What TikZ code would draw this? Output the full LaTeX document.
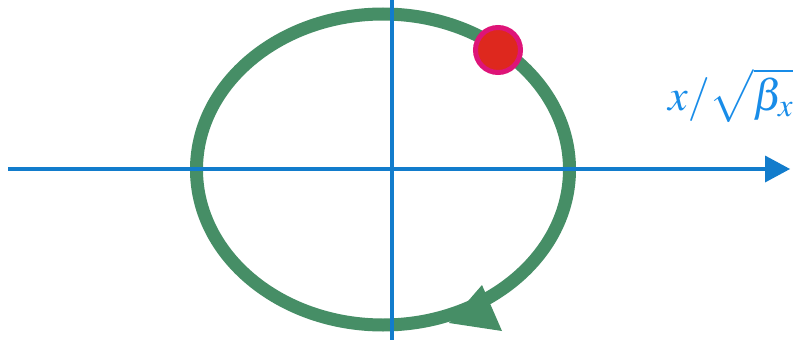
\documentclass[tikz,border=0pt]{standalone}
\usepackage{mathptmx}
\definecolor{orbit}{RGB}{70,142,102}
\definecolor{axisblue}{RGB}{18,124,204}
\definecolor{labelblue}{RGB}{24,140,232}
\definecolor{dotred}{RGB}{222,40,30}
\definecolor{dotrim}{RGB}{222,20,120}
\tikzset{
  orbitline/.style={draw=orbit,line width=13pt},
  axisline/.style={draw=axisblue,line width=3.5pt},
  axishead/.style={fill=axisblue},
  orbithead/.style={fill=orbit},
}
\begin{document}
\begin{tikzpicture}[x=1pt,y=-1pt]
\useasboundingbox (0,0) rectangle (798,340);
\coordinate (c) at (383,169.5);
\draw[orbitline] (c) ellipse [x radius=186.5, y radius=155.5];
\fill[orbithead] (449,323) -- (482,285) -- (502,331) -- cycle;
\coordinate (xl) at (8,169);
\coordinate (xr) at (768,169);
\coordinate (tip) at (790,169);
\coordinate (yt) at (392,0);
\coordinate (yb) at (392,340);
\draw[axisline] (xl) -- (xr);
\fill[axishead] (tip) -- (765,155.5) -- (765,182.5) -- cycle;
\draw[axisline] (yt) -- (yb);
\node[circle,fill=dotred,draw=dotrim,line width=5pt,minimum size=45pt,inner sep=0pt] (dot) at (498,50) {};
\node[anchor=base west,inner sep=0pt,text=labelblue,font=\fontsize{44}{44}\selectfont] (lab) at (668,110) {$x/\sqrt{\beta_{x}}$};
\end{tikzpicture}
\end{document}
